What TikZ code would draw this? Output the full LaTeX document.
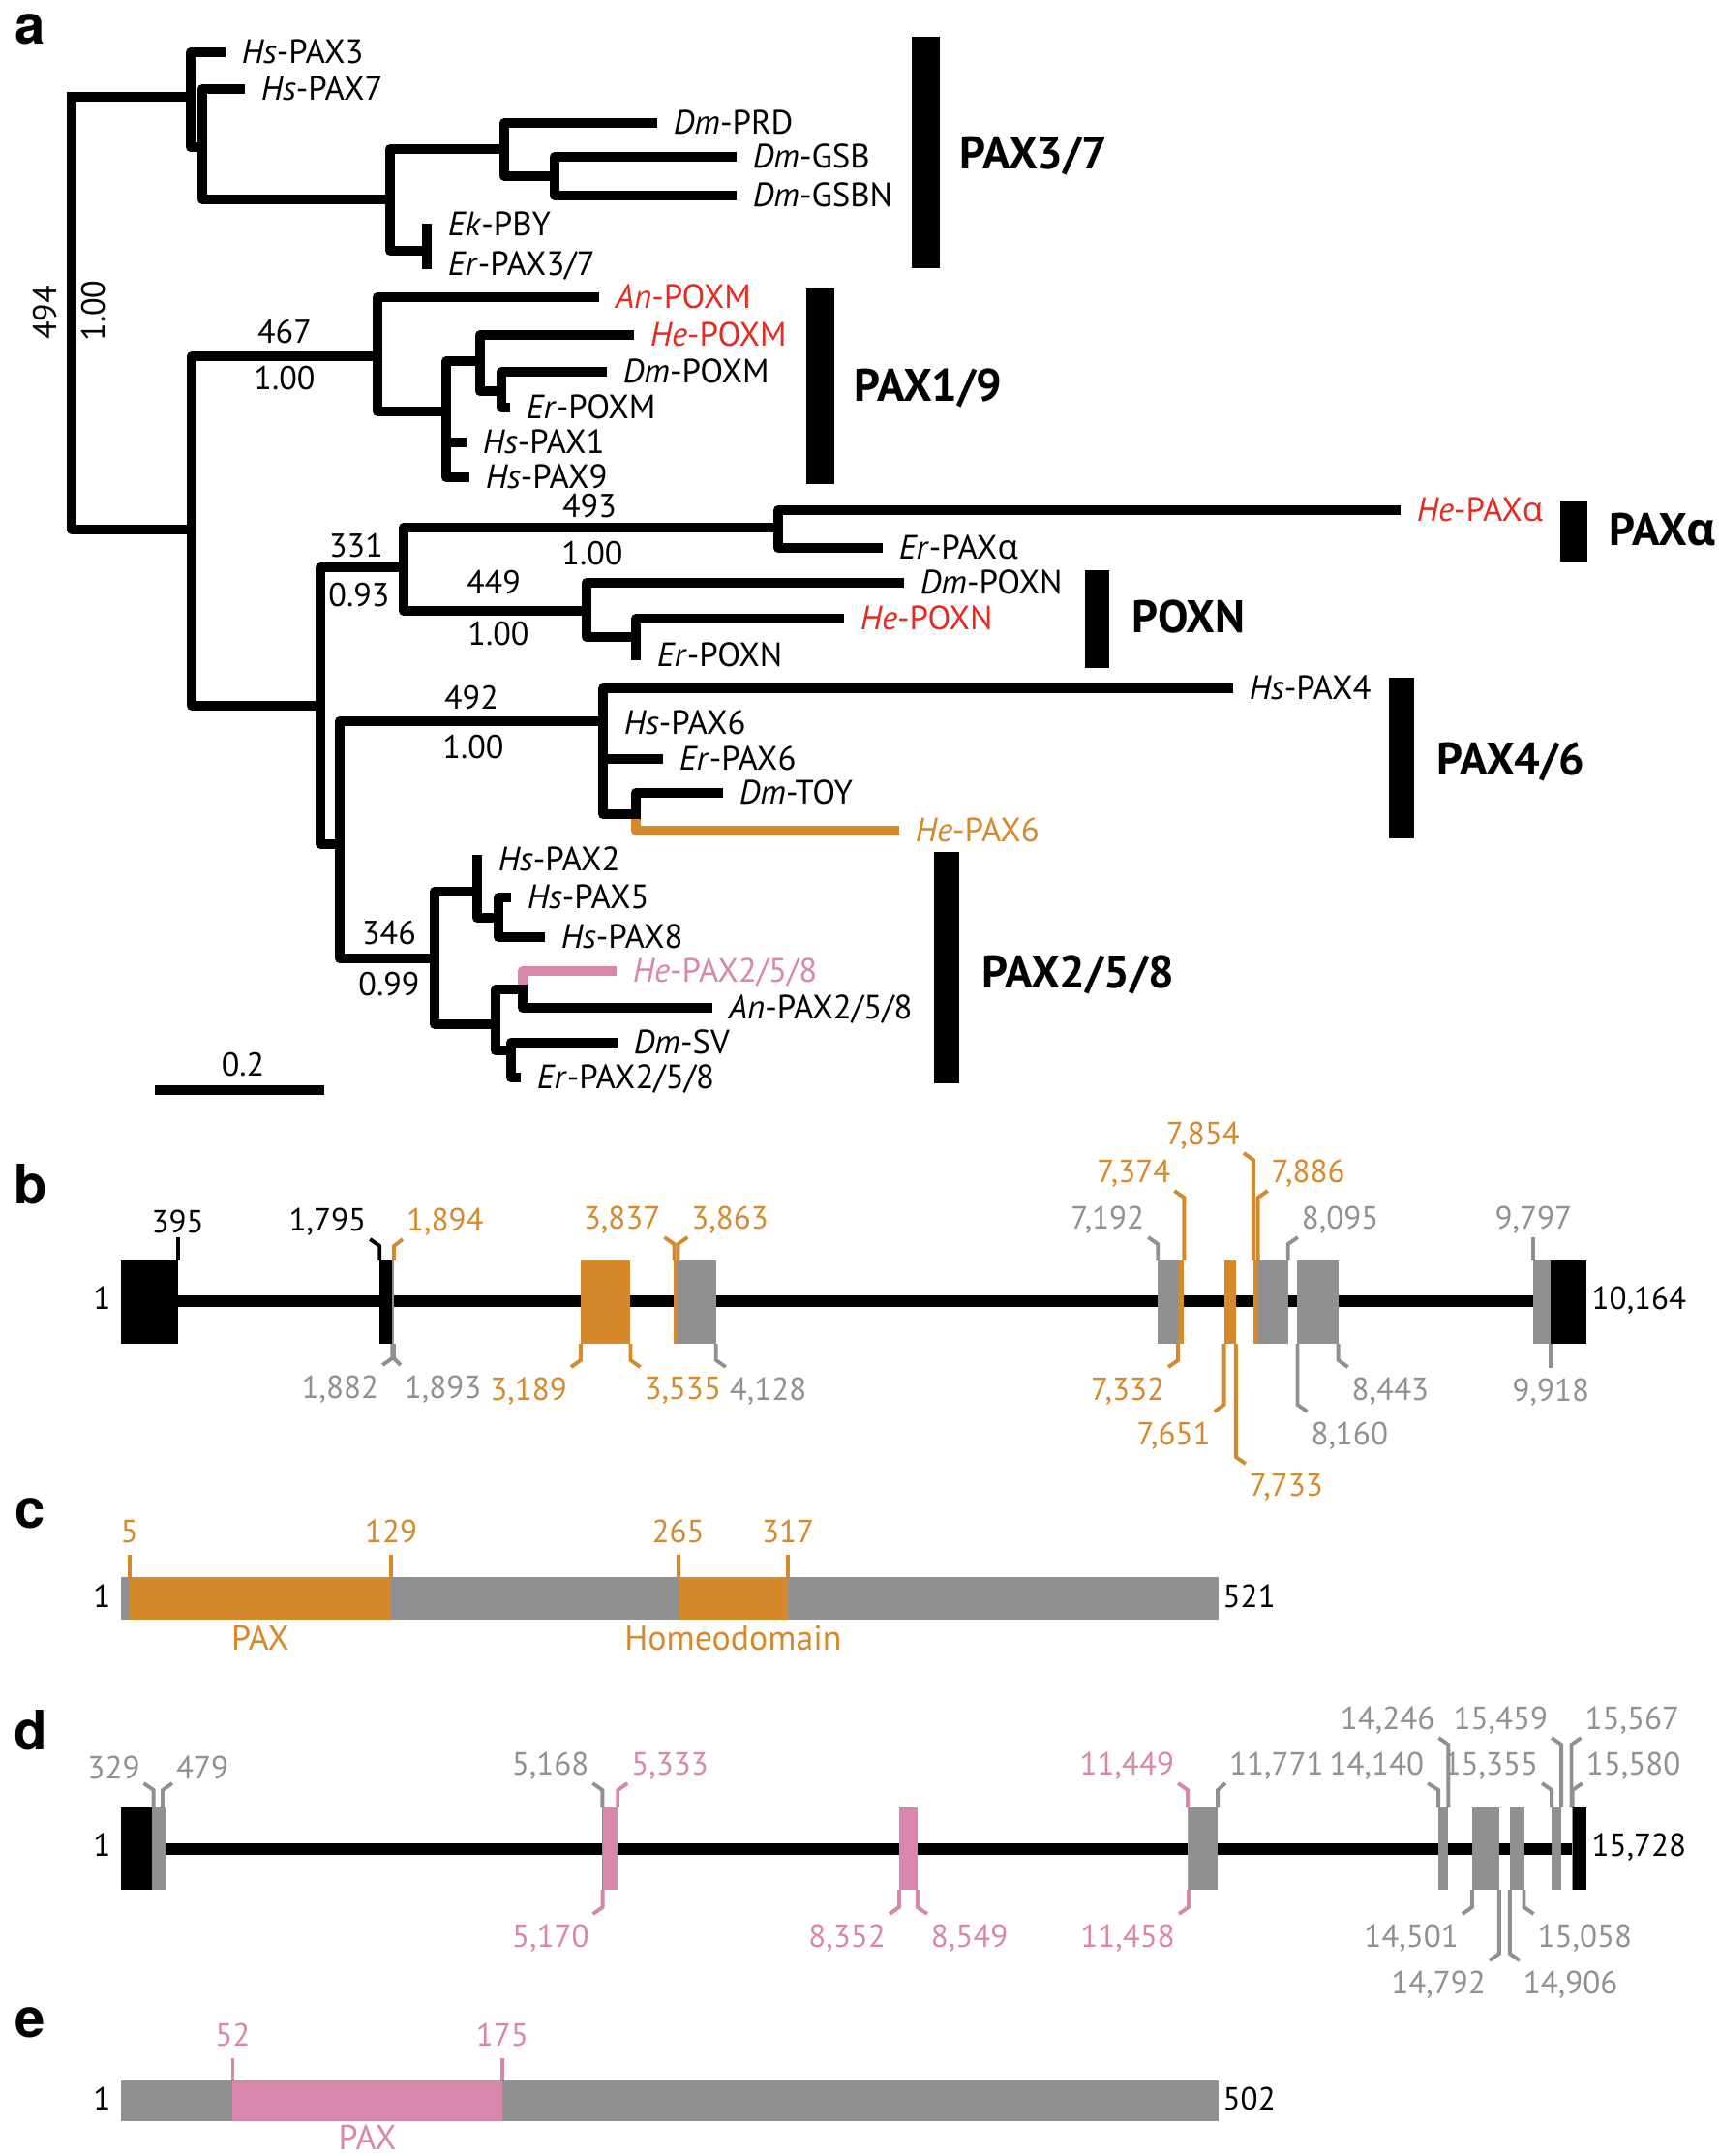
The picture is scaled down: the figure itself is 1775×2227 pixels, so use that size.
\documentclass[tikz,border=0pt]{standalone}
\usepackage{fontspec}
\setmainfont{PT Sans}
\newfontfamily\heros{TeX Gyre Heros}
\newfontfamily\grk{Open Sans}
\usetikzlibrary{positioning}
\definecolor{org}{RGB}{213,137,43}
\definecolor{gry}{RGB}{142,144,146}
\definecolor{pnk}{RGB}{216,134,172}
\definecolor{hered}{RGB}{231,42,32}
\tikzset{
    branchline/.style = {line width=2.85pt, line cap=rect, line join=round},
    taxon/.style = {anchor=base west, inner sep=0pt, xshift=6pt, yshift=-3.4pt, font=\fontsize{9.9}{12}\selectfont},
    supp/.style = {inner sep=0pt, font=\fontsize{9.7}{12}\selectfont},
    clade/.style = {anchor=west, inner sep=0pt, text depth=0pt, font=\fontsize{13.4}{16}\selectfont\bfseries},
    panel/.style = {anchor=base west, inner sep=0pt, font=\fontsize{16}{18}\selectfont\heros\bfseries},
    intron/.style = {line width=3.2pt},
    posline/.style = {line width=1.1pt, line join=miter},
    num/.style = {font=\fontsize{9.4}{11}\selectfont},
    domlabel/.style = {anchor=north, inner sep=1.5pt, font=\fontsize{10.2}{12}\selectfont}
}
\newcommand{\tx}[2]{\textit{#1}-#2}
% bp or aa -> px
\newcommand{\bpos}[1]{125+0.14897*(#1-1)}
\newcommand{\dpos}[1]{125+0.09627*(#1-1)}
\newcommand{\cpos}[1]{125+2.1808*(#1-1)}
\newcommand{\epos}[1]{125+2.2635*(#1-1)}
\newcommand{\bexon}[3]{\fill[#1] ({\bpos{#2}},1302) rectangle ({\bpos{#3}},1388);}
\newcommand{\dexon}[3]{\fill[#1] ({\dpos{#2}},1867) rectangle ({\dpos{#3}},1952);}
\newcommand{\tickup}[7]{\draw[posline,#1] ({#2},#3) -- ({#2},#4) -- ++(#5,-7) node[num,anchor=#6,inner xsep=0.6pt,inner ysep=0.5pt] {#7};}
\newcommand{\tickdn}[7]{\draw[posline,#1] ({#2},#3) -- ({#2},#4) -- ++(#5,7) node[num,anchor=#6,inner xsep=0.6pt,inner ysep=2.5pt] {#7};}

\begin{document}
\begin{tikzpicture}[x=0.01cm,y=-0.01cm]
\useasboundingbox (0,0) rectangle (1775,2227);
%
\node[panel] (la) at (15,45) {a};
\node[panel] (lb) at (14,1243) {b};
\node[panel] (lc) at (15,1578) {c};
\node[panel] (ld) at (14,1807) {d};
\node[panel] (le) at (15,2104) {e};
%
% tree: internal nodes
\coordinate (r) at (74,100);
\coordinate (n1) at (197,100);
\coordinate (n2) at (209,152);
\coordinate (n3) at (403,206);
\coordinate (n4) at (521,154);
\coordinate (n5) at (573,182);
\coordinate (n6) at (441,259);
\coordinate (n8) at (198,547);
\coordinate (n9) at (390,368);
\coordinate (n10) at (461,425);
\coordinate (n11) at (496,373);
\coordinate (n12) at (518,404);
\coordinate (n13) at (331,729);
\coordinate (n14) at (417,586);
\coordinate (n15) at (804,545);
\coordinate (n16) at (606,631);
\coordinate (n17) at (657,658);
\coordinate (n18) at (351,872);
\coordinate (n19) at (623,745);
\coordinate (n20) at (657,841);
\coordinate (n21) at (449,990);
\coordinate (n22) at (493,921);
\coordinate (n23) at (515,948);
\coordinate (n24) at (512,1058);
\coordinate (n25) at (540,1022);
\coordinate (n26) at (528,1085);
% tips
\coordinate (hsPAX3) at (228,54);
\coordinate (hsPAX7) at (248,92);
\coordinate (dmPRD) at (674,127);
\coordinate (dmGSB) at (756,162);
\coordinate (dmGSBN) at (756,202);
\coordinate (ekPBY) at (441,236);
\coordinate (erPAX37) at (441,273);
\coordinate (anPOXM) at (614,307);
\coordinate (hePOXM) at (650,346);
\coordinate (dmPOXM) at (622,384);
\coordinate (erPOXM) at (522,421);
\coordinate (hsPAX1) at (477,457);
\coordinate (hsPAX9) at (480,493);
\coordinate (hePAXa) at (1442,527);
\coordinate (erPAXa) at (907,566);
\coordinate (dmPOXN) at (929,602);
\coordinate (hePOXN) at (867,639);
\coordinate (erPOXN) at (657,677);
\coordinate (hsPAX4) at (1269,711);
\coordinate (hsPAX6) at (623,747);
\coordinate (erPAX6) at (680,784);
\coordinate (dmTOY) at (742,819);
\coordinate (hePAX6) at (924,858);
\coordinate (hsPAX2) at (493,888);
\coordinate (hsPAX5) at (523,927);
\coordinate (hsPAX8) at (558,968);
\coordinate (hePAX258) at (632,1003);
\coordinate (anPAX258) at (731,1041);
\coordinate (dmSV) at (633,1077);
\coordinate (erPAX258) at (533,1113);
%
\draw[branchline,org] (n20) |- (hePAX6);
\draw[branchline,pnk] (n25) |- (hePAX258);
\draw[branchline] (r) |- (n1) (r) |- (n8);
\draw[branchline] (n1) |- (hsPAX3) (n1) |- (n2);
\draw[branchline] (n2) |- (hsPAX7) (n2) |- (n3);
\draw[branchline] (n3) |- (n4) (n3) |- (n6);
\draw[branchline] (n4) |- (dmPRD) (n4) |- (n5);
\draw[branchline] (n5) |- (dmGSB) (n5) |- (dmGSBN);
\draw[branchline] (n6) |- (ekPBY) (n6) |- (erPAX37);
\draw[branchline] (n8) |- (n9) (n8) |- (n13);
\draw[branchline] (n9) |- (anPOXM) (n9) |- (n10);
\draw[branchline] (n10) |- (n11) (n10) |- (hsPAX1) (n10) |- (hsPAX9);
\draw[branchline] (n11) |- (hePOXM) (n11) |- (n12);
\draw[branchline] (n12) |- (dmPOXM) (n12) |- (erPOXM);
\draw[branchline] (n13) |- (n14) (n13) |- (n18);
\draw[branchline] (n14) |- (n15) (n14) |- (n16);
\draw[branchline] (n15) |- (hePAXa) (n15) |- (erPAXa);
\draw[branchline] (n16) |- (dmPOXN) (n16) |- (n17);
\draw[branchline] (n17) |- (hePOXN) (n17) |- (erPOXN);
\draw[branchline] (n18) |- (n19) (n18) |- (n21);
\draw[branchline] (n19) |- (hsPAX4) (n19) |- (hsPAX6) (n19) |- (erPAX6) (n19) |- (n20);
\draw[branchline] (n20) |- (dmTOY);
\draw[branchline] (n21) |- (n22) (n21) |- (n24);
\draw[branchline] (n22) |- (hsPAX2) (n22) |- (n23);
\draw[branchline] (n23) |- (hsPAX5) (n23) |- (hsPAX8);
\draw[branchline] (n24) |- (n25) (n24) |- (n26);
\draw[branchline] (n25) |- (anPAX258);
\draw[branchline] (n26) |- (dmSV) (n26) |- (erPAX258);
%
\node[taxon] (lHsPAX3) at (hsPAX3) {\tx{Hs}{PAX3}};
\node[taxon] (lHsPAX7) at (hsPAX7) {\tx{Hs}{PAX7}};
\node[taxon] (lDmPRD) at (dmPRD) {\tx{Dm}{PRD}};
\node[taxon] (lDmGSB) at (dmGSB) {\tx{Dm}{GSB}};
\node[taxon] (lDmGSBN) at (dmGSBN) {\tx{Dm}{GSBN}};
\node[taxon] (lEkPBY) at (ekPBY |- 0,232) {\tx{Ek}{PBY}};
\node[taxon] (lErPAX37) at (erPAX37) {\tx{Er}{PAX3/7}};
\node[taxon,hered] (lAnPOXM) at (anPOXM) {\tx{An}{POXM}};
\node[taxon,hered] (lHePOXM) at (hePOXM) {\tx{He}{POXM}};
\node[taxon] (lDmPOXM) at (dmPOXM) {\tx{Dm}{POXM}};
\node[taxon] (lErPOXM) at (erPOXM) {\tx{Er}{POXM}};
\node[taxon] (lHsPAX1) at (hsPAX1) {\tx{Hs}{PAX1}};
\node[taxon] (lHsPAX9) at (hsPAX9) {\tx{Hs}{PAX9}};
\node[taxon,hered] (lHePAXa) at (hePAXa) {\tx{He}{PAX{\grk α}}};
\node[taxon] (lErPAXa) at (erPAXa) {\tx{Er}{PAX{\grk α}}};
\node[taxon] (lDmPOXN) at (dmPOXN) {\tx{Dm}{POXN}};
\node[taxon,hered] (lHePOXN) at (hePOXN) {\tx{He}{POXN}};
\node[taxon] (lErPOXN) at (erPOXN) {\tx{Er}{POXN}};
\node[taxon] (lHsPAX4) at (hsPAX4) {\tx{Hs}{PAX4}};
\node[taxon] (lHsPAX6) at (hsPAX6) {\tx{Hs}{PAX6}};
\node[taxon] (lErPAX6) at (erPAX6) {\tx{Er}{PAX6}};
\node[taxon] (lDmTOY) at (dmTOY) {\tx{Dm}{TOY}};
\node[taxon,org] (lHePAX6) at (hePAX6) {\tx{He}{PAX6}};
\node[taxon] (lHsPAX2) at (hsPAX2) {\tx{Hs}{PAX2}};
\node[taxon] (lHsPAX5) at (hsPAX5) {\tx{Hs}{PAX5}};
\node[taxon] (lHsPAX8) at (hsPAX8) {\tx{Hs}{PAX8}};
\node[taxon,pnk] (lHePAX258) at (hePAX258) {\tx{He}{PAX2/5/8}};
\node[taxon] (lAnPAX258) at (anPAX258) {\tx{An}{PAX2/5/8}};
\node[taxon] (lDmSV) at (dmSV) {\tx{Dm}{SV}};
\node[taxon] (lErPAX258) at (erPAX258) {\tx{Er}{PAX2/5/8}};
%
\node[supp,rotate=90] (s494) at (47,323) {494};
\node[supp,rotate=90] (p494) at (97,321) {1.00};
\node[supp] (s467) at (294,343) {467};
\node[supp] (p467) at (294,391) {1.00};
\node[supp] (s493) at (609,523) {493};
\node[supp] (p493) at (612,572) {1.00};
\node[supp] (s331) at (368,564) {331};
\node[supp] (p331) at (371,615) {0.93};
\node[supp] (s449) at (510,602) {449};
\node[supp] (p449) at (515,655) {1.00};
\node[supp] (s492) at (487,721) {492};
\node[supp] (p492) at (489,772) {1.00};
\node[supp] (s346) at (402,964) {346};
\node[supp] (p346) at (402,1017) {0.99};
%
\coordinate (sbl) at (165,1126);
\coordinate (sbr) at (330,1126);
\draw[branchline] (sbl) -- (sbr);
\node[supp] (sb) at (251,1100) {0.2};
%
% clade bars
\fill (942,38) rectangle (971,277);
\fill (833,298) rectangle (862,500);
\fill (1612,517) rectangle (1640,580);
\fill (1121,589) rectangle (1146,690);
\fill (1435,700) rectangle (1461,866);
\fill (965,880) rectangle (991,1119);
\node[clade] (c37) at (991,158) {PAX3/7};
\node[clade] (c19) at (882,398) {PAX1/9};
\node[clade] (ca) at (1662,547) {PAX{\grk α}};
\node[clade] (cn) at (1169,637) {POXN};
\node[clade] (c46) at (1484,784) {PAX4/6};
\node[clade] (c258) at (1014,1004) {PAX2/5/8};
%
% b: He-PAX6 gene
\draw[intron] ({\bpos{1}},1344) -- ({\bpos{10164}},1344);
\bexon{black}{1}{395}
\bexon{black}{1795}{1882}
\bexon{gry}{1882}{1894}
\bexon{org}{3189}{3535}
\bexon{org}{3837}{3863}
\bexon{gry}{3863}{4128}
\bexon{gry}{7192}{7332}
\bexon{org}{7332}{7374}
\bexon{org}{7651}{7733}
\bexon{org}{7854}{7886}
\bexon{gry}{7886}{8095}
\bexon{gry}{8160}{8443}
\bexon{gry}{9797}{9918}
\bexon{black}{9918}{10164}
\tickup{black}{\bpos{395}}{1302}{1285}{0}{south}{395}
\tickup{black}{\bpos{1795}}{1302}{1287}{-10}{south east}{1,795}
\tickup{org}{\bpos{1894}}{1302}{1287}{9}{south west}{1,894}
\tickup{org}{\bpos{3837}}{1302}{1285}{-10}{south east}{3,837}
\tickup{org}{\bpos{3863}}{1302}{1285}{10}{south west}{3,863}
\tickup{gry}{\bpos{7192}}{1302}{1285}{-10}{south east}{7,192}
\tickup{gry}{\bpos{8095}}{1302}{1285}{10}{south west}{8,095}
\tickup{gry}{\bpos{9797}}{1302}{1285}{0}{south}{9,797}
\tickup{org}{\bpos{7374}}{1302}{1237}{-10}{south east}{7,374}
\tickup{org}{\bpos{7886}}{1302}{1237}{10}{south west}{7,886}
\tickup{org}{\bpos{7854}}{1302}{1198}{-10}{south east}{7,854}
\tickdn{gry}{\bpos{1882}}{1388}{1403}{-10}{north east}{1,882}
\tickdn{gry}{\bpos{1893}}{1388}{1403}{7}{north west}{1,893}
\tickdn{org}{\bpos{3189}}{1388}{1405}{-10}{north east}{3,189}
\tickdn{org}{\bpos{3535}}{1388}{1405}{10}{north west}{3,535}
\tickdn{gry}{\bpos{4128}}{1388}{1405}{10}{north west}{4,128}
\tickdn{org}{\bpos{7332}}{1388}{1405}{-10}{north east}{7,332}
\tickdn{gry}{\bpos{8443}}{1388}{1405}{10}{north west}{8,443}
\tickdn{gry}{\bpos{9918}}{1388}{1406}{0}{north}{9,918}
\tickdn{org}{\bpos{7651}}{1388}{1451}{-10}{north east}{7,651}
\tickdn{gry}{\bpos{8160}}{1388}{1451}{10}{north west}{8,160}
\tickdn{org}{\bpos{7733}}{1388}{1505}{10}{north west}{7,733}
\node[num,anchor=base east,inner sep=0pt] (b1) at (115,1352) {1};
\node[num,anchor=base west,inner sep=0pt] (bend) at (1644,1352) {10,164};
%
% c: He-PAX6 protein
\fill[gry] ({\cpos{1}},1629) rectangle ({\cpos{521}},1673);
\fill[org] ({\cpos{5}},1629) rectangle ({\cpos{129}},1673);
\fill[org] ({\cpos{265}},1629) rectangle ({\cpos{317}},1673);
\draw[posline,org] ({\cpos{5}},1629) -- ({\cpos{5}},1606) node[num,anchor=south,inner sep=3pt] {5};
\draw[posline,org] ({\cpos{129}},1629) -- ({\cpos{129}},1606) node[num,anchor=south,inner sep=3pt] {129};
\draw[posline,org] ({\cpos{265}},1629) -- ({\cpos{265}},1606) node[num,anchor=south,inner sep=3pt] {265};
\draw[posline,org] ({\cpos{317}},1629) -- ({\cpos{317}},1606) node[num,anchor=south,inner sep=3pt] {317};
\node[domlabel,org] (cpax) at ({(\cpos{5}+\cpos{129})/2},1673) {PAX};
\node[domlabel,org] (chd) at ({(\cpos{265}+\cpos{317})/2},1673) {Homeodomain};
\node[num,anchor=base east,inner sep=0pt] (c1) at (115,1660) {1};
\node[num,anchor=base west,inner sep=0pt] (cend) at (1263,1660) {521};
%
% d: He-PAX2/5/8 gene
\draw[intron] ({\dpos{1}},1910) -- ({\dpos{15728}},1910);
\dexon{black}{1}{329}
\dexon{gry}{329}{479}
\dexon{gry}{5168}{5170}
\dexon{pnk}{5170}{5333}
\dexon{pnk}{8352}{8549}
\dexon{pnk}{11449}{11458}
\dexon{gry}{11458}{11771}
\dexon{gry}{14140}{14246}
\dexon{gry}{14501}{14792}
\dexon{gry}{14906}{15058}
\dexon{gry}{15355}{15459}
\dexon{gry}{15567}{15580}
\dexon{black}{15580}{15728}
\tickup{gry}{\dpos{329}+2}{1867}{1849}{-10}{south east}{329}
\tickup{gry}{\dpos{479}-3}{1867}{1849}{10}{south west}{479}
\tickup{gry}{\dpos{5168}}{1867}{1849}{-10}{south east}{5,168}
\tickup{pnk}{\dpos{5333}}{1867}{1849}{10}{south west}{5,333}
\tickup{pnk}{\dpos{11449}}{1867}{1849}{-10}{south east}{11,449}
\tickup{gry}{\dpos{11771}}{1867}{1849}{8}{south west}{11,771}
\tickup{gry}{\dpos{14140}}{1867}{1849}{-11}{south east}{14,140}
\tickup{gry}{\dpos{14246}}{1867}{1802}{-10}{south east}{14,246}
\tickup{gry}{\dpos{15355}}{1867}{1849}{-10}{south east}{15,355}
\tickup{gry}{\dpos{15459}}{1867}{1802}{-10}{south east}{15,459}
\tickup{gry}{\dpos{15567}}{1867}{1802}{10}{south west}{15,567}
\tickup{gry}{\dpos{15580}}{1867}{1849}{10}{south west}{15,580}
\tickdn{pnk}{\dpos{5170}}{1952}{1970}{-10}{north east}{5,170}
\tickdn{pnk}{\dpos{8352}}{1952}{1970}{-10}{north east}{8,352}
\tickdn{pnk}{\dpos{8549}}{1952}{1970}{10}{north west}{8,549}
\tickdn{pnk}{\dpos{11458}}{1952}{1970}{-10}{north east}{11,458}
\tickdn{gry}{\dpos{14501}}{1952}{1970}{-10}{north east}{14,501}
\tickdn{gry}{\dpos{15058}}{1952}{1970}{10}{north west}{15,058}
\tickdn{gry}{\dpos{14792}}{1952}{2018}{-10}{north east}{14,792}
\tickdn{gry}{\dpos{14906}}{1952}{2018}{10}{north west}{14,906}
\node[num,anchor=base east,inner sep=0pt] (d1) at (115,1917) {1};
\node[num,anchor=base west,inner sep=0pt] (dend) at (1644,1917) {15,728};
%
% e: He-PAX2/5/8 protein
\fill[gry] ({\epos{1}},2149) rectangle ({\epos{502}},2191);
\fill[pnk] ({\epos{52}},2149) rectangle ({\epos{175}},2191);
\draw[posline,pnk] ({\epos{52}},2149) -- ({\epos{52}},2126) node[num,anchor=south,inner sep=3pt] {52};
\draw[posline,pnk] ({\epos{175}},2149) -- ({\epos{175}},2126) node[num,anchor=south,inner sep=3pt] {175};
\node[domlabel,pnk,inner ysep=0.8pt] (epax) at ({(\epos{52}+\epos{175})/2},2191) {PAX};
\node[num,anchor=base east,inner sep=0pt] (e1) at (115,2179) {1};
\node[num,anchor=base west,inner sep=0pt] (eend) at (1263,2179) {502};
\end{tikzpicture}
\end{document}
